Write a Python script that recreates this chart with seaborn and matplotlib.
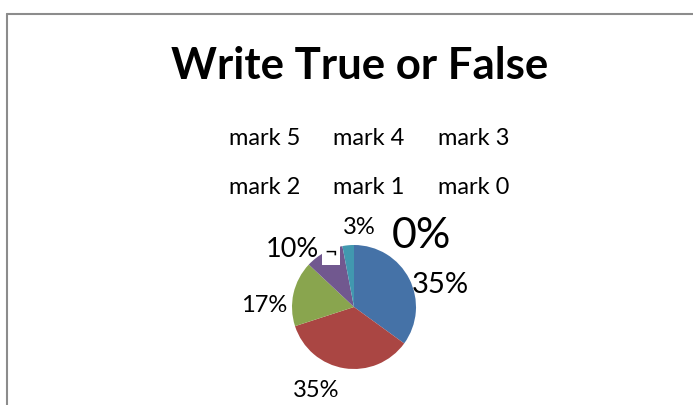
import matplotlib
matplotlib.use("Agg")
import matplotlib.pyplot as plt
from matplotlib.lines import Line2D
import seaborn as sns

# chart data
title = "Write True or False"
categories = ["mark 5", "mark 4", "mark 3", "mark 2", "mark 1", "mark 0"]
shares = [35, 35, 17, 10, 3, 0]

sns.set_theme(style="white")
plt.rcParams["font.family"] = ["Lato", "DejaVu Sans"]

palette = sns.color_palette(["#4572A7", "#AA4643", "#89A54E", "#71588F", "#4198AF", "#DB843D"])

W, H = 693, 405
fig = plt.figure(figsize=(W / 100, H / 100), dpi=100)
fig.patch.set_facecolor("white")

# pie centre / radius in pixels
R = 62.0
cx, cy = 354, 307

ax = fig.add_axes([0, 0, 1, 1])
wedges, texts, autotexts = ax.pie(
    shares, colors=palette, startangle=90, counterclock=False,
    autopct="%.0f%%", radius=1, wedgeprops=dict(linewidth=0),
    textprops=dict(color="black"))
ax.set_xlim(-cx / R, (W - cx) / R)
ax.set_ylim(-(H - cy) / R, cy / R)
ax.set_aspect("auto")
ax.axis("off")

# Excel-style "best fit" label spots (radius units) and sizes
label_pos = [(1.40, 0.355), (-0.61, -1.34), (-1.45, 0.02),
             (-1.00, 0.935), (0.08, 1.29), (1.08, 1.15)]
label_size = [21, 17, 17, 19.5, 17, 31]
for t, (x, y), s in zip(autotexts, label_pos, label_size):
    t.set_position((x, y))
    t.set_fontsize(s)
    t.set_ha("center")
    t.set_va("center")

# small leader mark next to the 10% label
ax.text(-0.37, 0.88, "\u00ac", ha="center", va="center", fontsize=16,
        color="black", bbox=dict(facecolor="white", edgecolor="none", pad=2))

fig.text(360 / W, 1 - 79 / H, title, ha="center", va="baseline",
         fontsize=31.5, fontweight="bold", color="black")

# legend: three columns, entries without colour keys
order = [0, 3, 1, 4, 2, 5]
leg = fig.legend([wedges[i] for i in order], [categories[i] for i in order],
                 ncol=3, loc="upper left", bbox_to_anchor=(229 / W, 1 - 128 / H),
                 frameon=False, handlelength=0, handletextpad=0,
                 columnspacing=1.4, labelspacing=1.17, fontsize=17,
                 labelcolor="black", borderaxespad=0, borderpad=0)
for h in leg.legend_handles:
    h.set_visible(False)

# chart-area border (top and left edges visible)
fig.add_artist(Line2D([7 / W, 1], [1 - 14 / H, 1 - 14 / H],
                      transform=fig.transFigure, color="#8c8c8c", lw=1.5))
fig.add_artist(Line2D([7 / W, 7 / W], [0, 1 - 14 / H],
                      transform=fig.transFigure, color="#8c8c8c", lw=1.5))

fig.savefig("out.png", dpi=100)
